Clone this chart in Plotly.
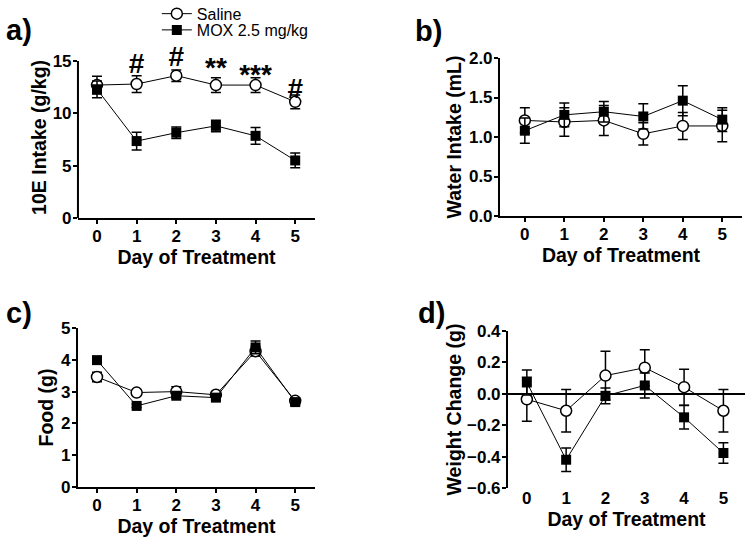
import plotly.graph_objects as go
from plotly.subplots import make_subplots

days = [0, 1, 2, 3, 4, 5]

# a) 10E intake (g/kg)
intake_sal = [12.7, 12.8, 13.6, 12.7, 12.7, 11.1]
intake_sal_err = [0.85, 0.8, 0.55, 0.7, 0.7, 0.65]
intake_mox = [12.3, 7.35, 8.15, 8.8, 7.85, 5.5]
intake_mox_err = [0.8, 0.85, 0.55, 0.55, 0.8, 0.7]
sig_days = [1, 2, 3, 4, 5]
sig_marks = ["#", "#", "**", "***", "#"]
sig_y = [14.5, 15.15, 14.15, 13.5, 12.15]

# b) water intake (mL)
water_sal = [1.21, 1.19, 1.21, 1.04, 1.14, 1.14]
water_sal_err = [0.16, 0.18, 0.19, 0.14, 0.17, 0.2]
water_mox = [1.08, 1.28, 1.32, 1.26, 1.46, 1.22]
water_mox_err = [0.16, 0.15, 0.13, 0.16, 0.19, 0.15]

# c) food (g)
food_sal = [3.46, 2.97, 3.0, 2.9, 4.27, 2.71]
food_sal_err = [0.15, 0.07, 0.15, 0.08, 0.15, 0.1]
food_mox = [3.99, 2.55, 2.87, 2.81, 4.39, 2.67]
food_mox_err = [0.05, 0.05, 0.08, 0.08, 0.2, 0.1]

# d) weight change (g)
wt_sal = [-0.035, -0.108, 0.116, 0.166, 0.042, -0.108]
wt_sal_err = [0.14, 0.135, 0.155, 0.115, 0.115, 0.135]
wt_mox = [0.072, -0.42, -0.013, 0.053, -0.15, -0.377]
wt_mox_err = [0.08, 0.075, 0.05, 0.08, 0.075, 0.065]

FONT = "Arial, Liberation Sans, sans-serif"

fig = make_subplots(rows=2, cols=2)

panels = [
    (1, 1, intake_sal, intake_sal_err, intake_mox, intake_mox_err),
    (1, 2, water_sal, water_sal_err, water_mox, water_mox_err),
    (2, 1, food_sal, food_sal_err, food_mox, food_mox_err),
    (2, 2, wt_sal, wt_sal_err, wt_mox, wt_mox_err),
]

for i, (r, c, sal, sal_e, mox, mox_e) in enumerate(panels):
    fig.add_trace(go.Scatter(
        x=days, y=sal, mode="lines+markers", name="Saline",
        showlegend=(i == 0), legend="legend", cliponaxis=False,
        line=dict(color="black", width=1),
        marker=dict(symbol="circle", size=11, color="white", line=dict(width=1.5, color="black")),
        error_y=dict(type="data", array=sal_e, color="black", thickness=1.5, width=5),
    ), row=r, col=c)
    fig.add_trace(go.Scatter(
        x=days, y=mox, mode="lines+markers", name="MOX 2.5 mg/kg",
        showlegend=(i == 0), legend="legend2", cliponaxis=False,
        line=dict(color="black", width=1),
        marker=dict(symbol="square", size=10, color="black"),
        error_y=dict(type="data", array=mox_e, color="black", thickness=1.5, width=5),
    ), row=r, col=c)

# significance marks on panel a
fig.add_trace(go.Scatter(
    x=sig_days, y=sig_y, mode="text", text=sig_marks, textposition="middle center",
    textfont=dict(family=FONT, size=28, color="black", weight="bold"),
    cliponaxis=False, showlegend=False, hoverinfo="skip",
), row=1, col=1)

axis_common = dict(
    showgrid=False, zeroline=False, showline=True, linecolor="black", linewidth=2,
    ticks="outside", tickcolor="black", tickwidth=2, ticklen=4, ticklabelstandoff=-2,
    tickfont=dict(family=FONT, size=17, color="black", weight="bold"),
    title_font=dict(family=FONT, size=19.5, color="black", weight="bold"),
)

fig.update_xaxes(**axis_common, tickvals=days, title_text="Day of Treatment", title_standoff=0)
fig.update_yaxes(**axis_common)

fig.update_xaxes(domain=[0.1034, 0.4178], range=[-0.48, 5.5], row=1, col=1)
fig.update_xaxes(domain=[0.6631, 0.9841], range=[-0.63, 5.5], row=1, col=2)
fig.update_xaxes(domain=[0.1034, 0.4178], range=[-0.48, 5.5], row=2, col=1)
fig.update_xaxes(domain=[0.6737, 0.9881], range=[-0.48, 5.55], row=2, col=2,
                 showline=False, ticks="")

# panel a: range a bit above 15 so the top mark is drawn; axis line drawn to 15 only
fig.update_yaxes(domain=[0.597, 0.895], range=[0, 15.4], tickvals=[0, 5, 10, 15],
                 showline=False, title_text="10E Intake (g/kg)", title_standoff=0, row=1, col=1)
fig.add_shape(type="line", xref="x domain", yref="y", x0=0, x1=0, y0=0, y1=15,
              line=dict(color="black", width=2))
fig.update_yaxes(domain=[0.6007, 0.8928], range=[0, 2], tickvals=[0, 0.5, 1, 1.5, 2],
                 tickformat=".1f", title_text="Water Intake (mL)", title_standoff=2, row=1, col=2)
fig.update_yaxes(domain=[0.0998, 0.3937], range=[0, 5], tickvals=[0, 1, 2, 3, 4, 5],
                 title_text="Food (g)", title_standoff=2, row=2, col=1)
fig.update_yaxes(domain=[0.098, 0.3882], range=[-0.6, 0.4],
                 tickvals=[-0.6, -0.4, -0.2, 0, 0.2, 0.4], tickformat=".1f",
                 zeroline=True, zerolinecolor="black", zerolinewidth=2,
                 title_text="Weight Change (g)", title_standoff=0, row=2, col=2)

# panel letters
for lbl, px, py in [("a)", 0.005, 0.945), ("b)", 0.548, 0.942), ("c)", 0.005, 0.421), ("d)", 0.552, 0.421)]:
    fig.add_annotation(x=px, y=py, xref="paper", yref="paper", text=lbl, showarrow=False,
                       xanchor="left", yanchor="middle",
                       font=dict(family=FONT, size=29, color="black", weight="bold"))

leg = dict(xanchor="left", yanchor="top", bgcolor="rgba(0,0,0,0)",
           font=dict(family=FONT, size=16, color="black"), itemwidth=30)

fig.update_layout(
    width=754, height=541,
    margin=dict(l=0, r=0, t=0, b=0, autoexpand=False),
    paper_bgcolor="white", plot_bgcolor="white",
    legend=dict(leg, x=0.208, y=1.006),
    legend2=dict(leg, x=0.208, y=0.976),
)

# drop the browser's default 8px body margin so the figure sits at the window origin
fig.write_html("out.html", config={"displayModeBar": False},
               post_script="document.body.style.margin='0';")
